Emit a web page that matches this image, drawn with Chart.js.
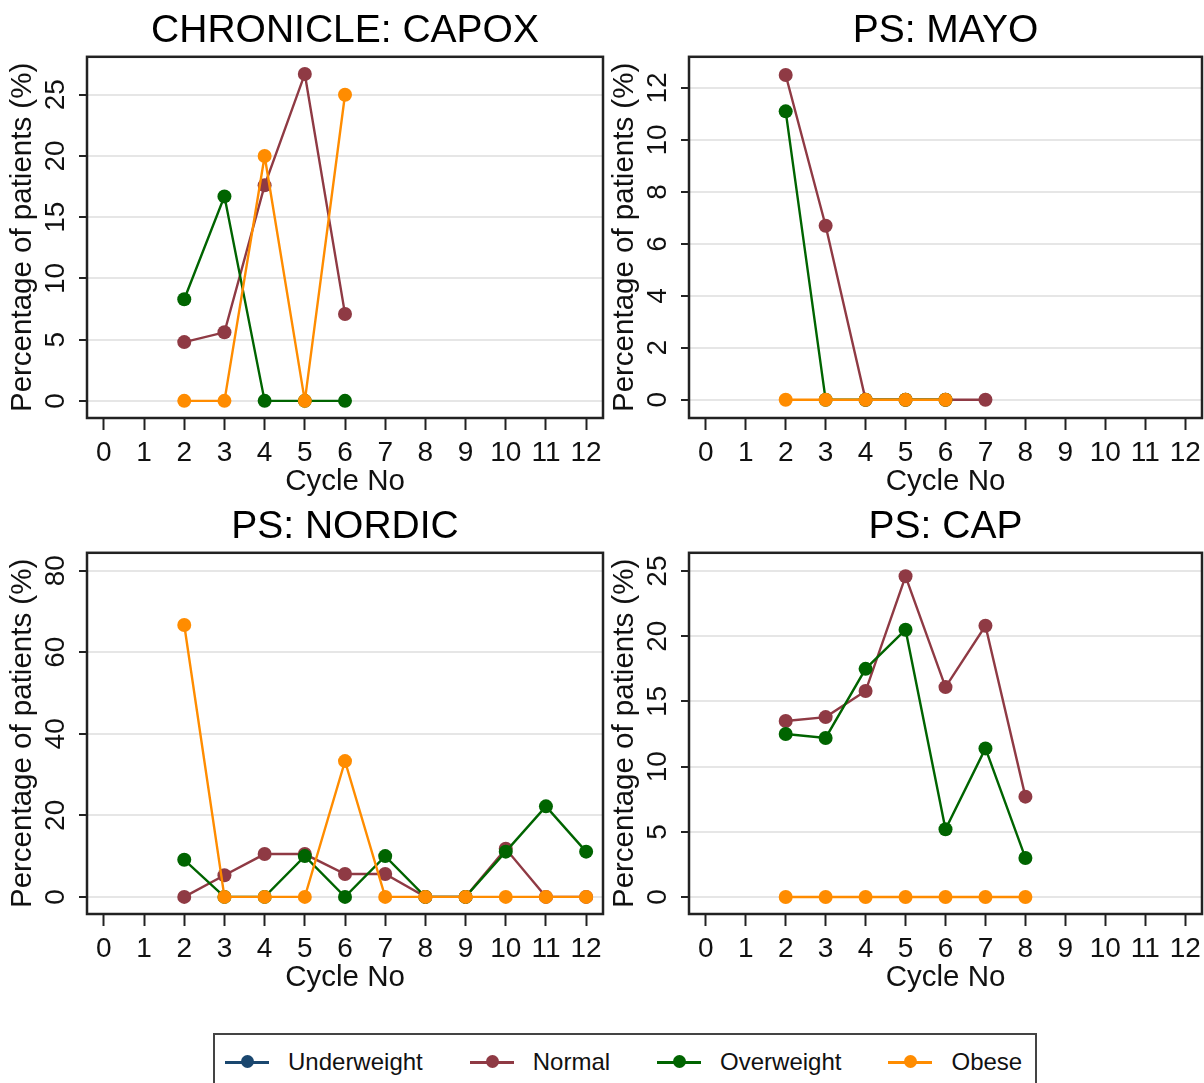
<!DOCTYPE html>
<html>
<head>
<meta charset="utf-8">
<script src="https://cdn.jsdelivr.net/npm/chart.js@4.4.1/dist/chart.umd.min.js"></script>
<style>
  body { margin: 0; background: #fff; font-family: "Liberation Sans", Arial, sans-serif; }
  #page { position: relative; width: 1204px; height: 1083px; overflow: hidden; background: #fff; }
  .panel { position: absolute; height: 500px; }
  .panel canvas { display: block; }
  #legend {
    position: absolute; left: 213px; top: 1033px; width: 824px; height: 70px;
    border: 2px solid #444; box-sizing: border-box;
    display: flex; align-items: flex-start; padding: 13px 0 0 10px;
  }
  .item { display: flex; align-items: center; margin-right: 47px; font-size: 24px; color: #111; }
  .swatch { position: relative; width: 44px; height: 3px; margin-right: 19px; }
  .swatch i { position: absolute; left: 16px; top: -5.5px; width: 13px; height: 13px; border-radius: 50%; }
</style>
</head>
<body>
<div id="page">
  <div class="panel" id="p1" style="left:0;top:0;width:610px"><canvas id="c1"></canvas></div>
  <div class="panel" id="p2" style="left:602px;top:0;width:607px"><canvas id="c2"></canvas></div>
  <div class="panel" id="p3" style="left:0;top:496px;width:610px"><canvas id="c3"></canvas></div>
  <div class="panel" id="p4" style="left:602px;top:496px;width:607px"><canvas id="c4"></canvas></div>
  <div id="legend"></div>
</div>
<script>
// Series
const seriesNames = ['Underweight', 'Normal', 'Overweight', 'Obese'];
const seriesColors = ['#1a476f', '#8f3a44', '#006400', '#ff8c00'];

// X axis tick labels (cycle number)
const cycleTicks = [0, 1, 2, 3, 4, 5, 6, 7, 8, 9, 10, 11, 12];

// CHRONICLE: CAPOX
const capoxCycles = [2, 3, 4, 5, 6];
const capoxUnderweight = [];
const capoxNormal = [4.8, 5.6, 17.6, 26.7, 7.1];
const capoxOverweight = [8.3, 16.7, 0, 0, 0];
const capoxObese = [0, 0, 20, 0, 25];
const capoxYTicks = [0, 5, 10, 15, 20, 25];

// PS: MAYO
const mayoCycles = [2, 3, 4, 5, 6, 7];
const mayoUnderweight = [];
const mayoNormal = [12.5, 6.7, 0, 0, 0, 0];
const mayoOverweight = [11.1, 0, 0, 0, 0, null];
const mayoObese = [0, 0, 0, 0, 0, null];
const mayoYTicks = [0, 2, 4, 6, 8, 10, 12];

// PS: NORDIC
const nordicCycles = [2, 3, 4, 5, 6, 7, 8, 9, 10, 11, 12];
const nordicUnderweight = [];
const nordicNormal = [0, 5.3, 10.5, 10.5, 5.6, 5.6, 0, 0, 11.8, 0, 0];
const nordicOverweight = [9.1, 0, 0, 10, 0, 10, 0, 0, 11.1, 22.2, 11.1];
const nordicObese = [66.7, 0, 0, 0, 33.3, 0, 0, 0, 0, 0, 0];
const nordicYTicks = [0, 20, 40, 60, 80];

// PS: CAP
const capCycles = [2, 3, 4, 5, 6, 7, 8];
const capUnderweight = [];
const capNormal = [13.5, 13.8, 15.8, 24.6, 16.1, 20.8, 7.7];
const capOverweight = [12.5, 12.2, 17.5, 20.5, 5.2, 11.4, 3.0];
const capObese = [0, 0, 0, 0, 0, 0, 0];
const capYTicks = [0, 5, 10, 15, 20, 25];

const FONT = '"Liberation Sans", Arial, sans-serif';

// box round the plot region
const framePlugin = {
    id: 'frame',
    afterDraw(chart) {
        const { ctx, chartArea: a } = chart;
        ctx.save();
        ctx.strokeStyle = '#222';
        ctx.lineWidth = 2.5;
        ctx.strokeRect(a.left, a.top, a.right - a.left, a.bottom - a.top);
        ctx.restore();
    }
};

function toPoints(cycles, values) {
    return cycles.map((c, i) => ({ x: c, y: values[i] })).filter(p => p.y !== null && p.y !== undefined);
}

function makePanel(id, width, title, cycles, series, yTicks, yMin, yMax) {
    const canvas = document.getElementById(id);
    canvas.width = width;
    canvas.height = 500;
    canvas.style.width = width + 'px';
    canvas.style.height = '500px';

    const datasets = series.map((values, i) => ({
        label: seriesNames[i],
        data: toPoints(cycles, values),
        borderColor: seriesColors[i],
        backgroundColor: seriesColors[i],
        borderWidth: 2.4,
        pointRadius: 7,
        pointBorderWidth: 0,
        pointBackgroundColor: seriesColors[i],
        order: 3 - i,
        tension: 0
    }));

    new Chart(canvas, {
        type: 'line',
        data: { datasets },
        plugins: [framePlugin],
        options: {
            responsive: false,
            animation: false,
            layout: { padding: { left: 0, right: 0, top: 0, bottom: 0 } },
            plugins: {
                legend: { display: false },
                tooltip: { enabled: false },
                title: {
                    display: true,
                    fullSize: false,
                    text: title,
                    color: '#000',
                    font: { size: 39, family: FONT, weight: 'normal' },
                    padding: { top: 8, bottom: 2 }
                }
            },
            scales: {
                x: {
                    type: 'linear',
                    min: -0.42,
                    max: 12.42,
                    afterBuildTicks: (scale) => { scale.ticks = cycleTicks.map(v => ({ value: v })); },
                    afterFit: (scale) => { scale.height = 82; },
                    grid: { display: true, drawOnChartArea: false, drawTicks: true, tickLength: 12, tickColor: '#222', tickWidth: 2 },
                    border: { display: false },
                    ticks: { color: '#111', font: { size: 28, family: FONT }, padding: 6, maxRotation: 0, autoSkip: false },
                    title: { display: true, text: 'Cycle No', color: '#111', font: { size: 29.5, family: FONT }, padding: { top: 0, bottom: 0 } }
                },
                y: {
                    type: 'linear',
                    min: yMin,
                    max: yMax,
                    afterBuildTicks: (scale) => { scale.ticks = yTicks.map(v => ({ value: v })); },
                    afterFit: (scale) => { scale.width = 87; },
                    grid: { color: '#e6e6e6', lineWidth: 2, drawTicks: true, tickLength: 8, tickColor: '#222', tickWidth: 2 },
                    border: { display: false },
                    ticks: { color: '#111', font: { size: 28, family: FONT }, padding: 7, minRotation: 90, maxRotation: 90, crossAlign: 'center' },
                    title: { display: true, text: 'Percentage of patients (%)', color: '#111', font: { size: 29.5, family: FONT }, padding: { top: 5, bottom: 0 } }
                }
            }
        }
    });
}

makePanel('c1', 610, 'CHRONICLE: CAPOX', capoxCycles,
    [capoxUnderweight, capoxNormal, capoxOverweight, capoxObese], capoxYTicks, -1.4, 28.1);
makePanel('c2', 607, 'PS: MAYO', mayoCycles,
    [mayoUnderweight, mayoNormal, mayoOverweight, mayoObese], mayoYTicks, -0.7, 13.2);
makePanel('c3', 610, 'PS: NORDIC', nordicCycles,
    [nordicUnderweight, nordicNormal, nordicOverweight, nordicObese], nordicYTicks, -4.2, 84.4);
makePanel('c4', 607, 'PS: CAP', capCycles,
    [capUnderweight, capNormal, capOverweight, capObese], capYTicks, -1.3, 26.4);

// shared legend
const legend = document.getElementById('legend');
seriesNames.forEach((name, i) => {
    const item = document.createElement('div');
    item.className = 'item';
    item.innerHTML = `<span class="swatch" style="background:${seriesColors[i]}"><i style="background:${seriesColors[i]}"></i></span><span>${name}</span>`;
    legend.appendChild(item);
});
</script>
</body>
</html>
